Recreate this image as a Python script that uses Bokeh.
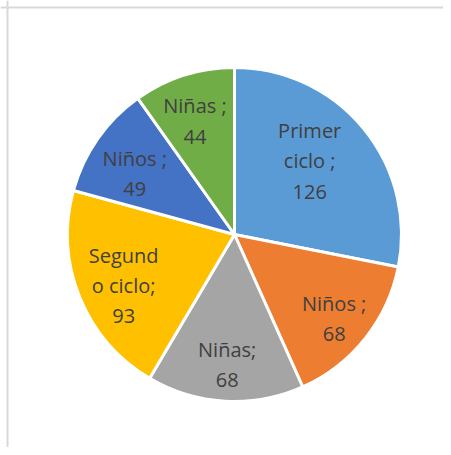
import math
from bokeh.plotting import figure
from bokeh.models import Range1d, Span
from bokeh.core.properties import value
from bokeh.embed import file_html
from bokeh.resources import INLINE

# Data
categories = ["Primer ciclo", "Niños", "Niñas", "Segundo ciclo", "Niños", "Niñas"]
values = [126, 68, 68, 93, 49, 44]
label_texts = ["Primer\nciclo ;\n126", "Niños ;\n68", "Niñas;\n68",
               "Segund\no ciclo;\n93", "Niños ;\n49", "Niñas ;\n44"]
colors = ["#5B9BD5", "#ED7D31", "#A5A5A5", "#FFC000", "#4472C4", "#70AD47"]
label_radius_frac = [0.63, 0.78, 0.78, 0.73, 0.70, 0.72]
label_angle_nudge = [5, -1.5, 0, 2.5, 3.5, 1.5]

W, H = 443, 447
R = 167
p = figure(width=W, height=H, output_backend="svg", toolbar_location=None,
           x_range=Range1d(-234, 209), y_range=Range1d(-213, 234),
           min_border=0)
p.axis.visible = False
p.grid.visible = False
p.outline_line_color = None

total = sum(values)
starts, ends, lx, ly = [], [], [], []
cum = 0.0
for v, f, nud in zip(values, label_radius_frac, label_angle_nudge):
    a0 = math.pi / 2 - 2 * math.pi * cum / total
    cum += v
    a1 = math.pi / 2 - 2 * math.pi * cum / total
    starts.append(a0)
    ends.append(a1)
    mid = (a0 + a1) / 2 + math.radians(nud)
    lx.append(R * f * math.cos(mid))
    ly.append(R * f * math.sin(mid))

p.wedge(x=0, y=0, radius=R, start_angle=starts, end_angle=ends,
        direction="clock", fill_color=colors, line_color="white", line_width=3)

p.text(x=lx, y=ly, text=label_texts, text_align="center", text_baseline="middle",
       text_font=value("Open Sans"), text_font_size="20px", text_color="#404040",
       text_line_height=1.12)

p.add_layout(Span(location=-227, dimension="height", line_color="#D9D9D9", line_width=2))
p.add_layout(Span(location=227, dimension="width", line_color="#D9D9D9", line_width=2))

open("out.html", "w").write(file_html(p, INLINE))
